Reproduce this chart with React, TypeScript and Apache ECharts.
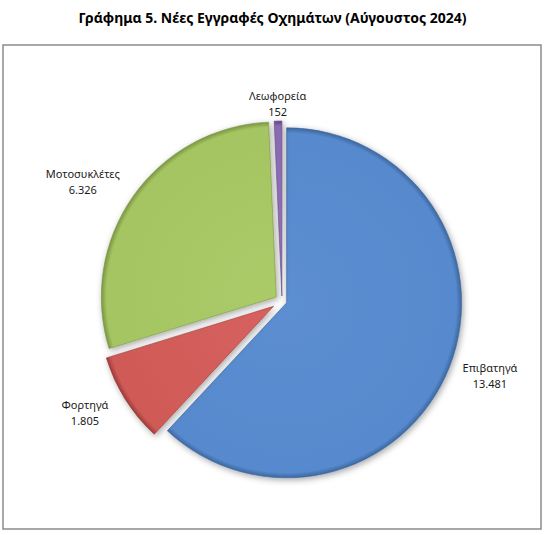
import React, { useEffect, useRef } from 'react';
import * as echarts from 'echarts';

const categories = ['Επιβατηγά', 'Φορτηγά', 'Μοτοσυκλέτες', 'Λεωφορεία'];
const values = [13481, 1805, 6326, 152];

const palette = [
  { base: '#5789cd', light: '#5c8ed2', edge: '#3c679f' },
  { base: '#d05a57', light: '#d6615e', edge: '#9c3b39' },
  { base: '#a5c563', light: '#abcb69', edge: '#7a9641' },
  { base: '#8a6bb1', light: '#9072b8', edge: '#5f467f' },
];

// per-slice explosion and label distances (Excel placed each slice on its own)
const explode = [5, 10, 7, 5];
const labelLen = [22, 24, 25, 18];
const labelLen2 = [15, 15, 25, 0];
const labelGap = [5, 5, 5, 0];

const CX = 282;
const CY = 301;
const R = 175;
const FONT = "'Noto Sans', 'DejaVu Sans', sans-serif";

const fmt = (v: number) => String(v).replace(/\B(?=(\d{3})+(?!\d))/g, '.');

const App = () => {
  const chartRef = useRef<HTMLDivElement>(null);

  useEffect(() => {
    if (!chartRef.current) return;
    const chart = echarts.init(chartRef.current, null, { renderer: 'svg' });

    const series = categories.map((_, i) => {
      const c = palette[i];
      const fill = new echarts.graphic.RadialGradient(
        CX,
        CY,
        R,
        [
          { offset: 0, color: c.light },
          { offset: 0.9, color: c.base },
          { offset: 0.97, color: c.base },
          { offset: 1, color: c.edge },
        ],
        true
      );
      const style = {
        color: fill,
        borderColor: c.edge,
        borderWidth: 0.6,
        shadowBlur: 6,
        shadowColor: 'rgba(0,0,0,0.35)',
        shadowOffsetX: 1.5,
        shadowOffsetY: 2,
      };
      return {
        type: 'pie',
        center: [CX, CY],
        radius: R,
        startAngle: 90,
        clockwise: true,
        silent: true,
        avoidLabelOverlap: false,
        selectedMode: 'multiple',
        selectedOffset: explode[i],
        emphasis: { disabled: true },
        label: {
          show: true,
          position: 'outside',
          distanceToLabelLine: labelGap[i],
          fontFamily: FONT,
          fontSize: 11,
          lineHeight: 16,
          color: '#1a1a1a',
          formatter: (p: any) => `${p.name}\n${fmt(p.value)}`,
        },
        labelLine: { show: false, length: labelLen[i], length2: labelLen2[i] },
        labelLayout: { align: 'center' },
        data: categories.map((name, j) => ({
          name,
          value: values[j],
          selected: j === i,
          itemStyle: j === i ? style : { opacity: 0, color: 'none' },
          select: { itemStyle: j === i ? style : { opacity: 0, color: 'none' } },
          label: { show: j === i },
        })),
      };
    });

    chart.setOption({
      animation: false,
      backgroundColor: '#ffffff',
      title: {
        text: 'Γράφημα 5. Νέες Εγγραφές Οχημάτων (Αύγουστος 2024)',
        left: 'center',
        top: 5,
        textStyle: {
          fontFamily: FONT,
          fontSize: 14,
          fontWeight: 'bold',
          color: '#000',
        },
      },
      graphic: [
        {
          type: 'rect',
          shape: { x: 3, y: 45, width: 538, height: 484 },
          style: { fill: 'none', stroke: '#8c8c8c', lineWidth: 1.5 },
          z: -1,
        },
      ],
      series,
    });

    return () => {
      chart.dispose();
    };
  }, []);

  return (
    <div
      ref={chartRef}
      style={{ position: 'absolute', left: 0, top: 0, width: '545px', height: '535px' }}
    ></div>
  );
};

export default App;
